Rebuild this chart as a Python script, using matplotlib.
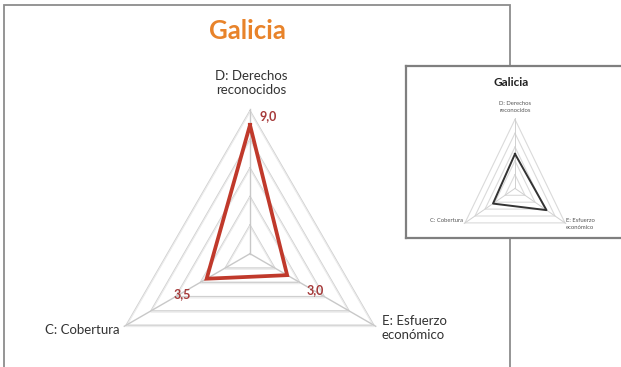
import numpy as np
import matplotlib
matplotlib.use("Agg")
import matplotlib.pyplot as plt
from matplotlib.patches import Rectangle

# ---------------- data ----------------
title = "Galicia"
categories = ["D: Derechos\nreconocidos", "E: Esfuerzo\neconómico", "C: Cobertura"]
galicia_values = [9.0, 3.0, 3.5]
value_labels = ["9,0", "3,0", "3,5"]
inset_values = [5.0, 6.3, 4.4]
grid_levels = [2, 4, 6, 8, 10]
max_value = 10

angles = np.deg2rad([90, -30, 210])

W, H = 621, 367
plt.rcParams['font.family'] = ['Lato', 'DejaVu Sans']
fig = plt.figure(figsize=(W / 100, H / 100), dpi=100)
fig.patch.set_facecolor("white")


def xy(vals):
    v = np.asarray(vals, dtype=float)
    return v * np.cos(angles), v * np.sin(angles)


def closed(a):
    return np.append(a, a[0])


# ---------------- main chart ----------------
cx, cy, R = 250.0, 253.7, 143.0
s = R / max_value
ax = fig.add_axes([0, 0, 1, 1])
ax.set_xlim(-cx / s, (W - cx) / s)
ax.set_ylim(-(H - cy) / s, cy / s)
ax.axis("off")


def P(px, py):
    return (px - cx) / s, (cy - py) / s


# frame of the main panel
fig.patches.append(Rectangle((4 / W, -0.2), 506 / W, 1.2 - 5 / H,
                             transform=fig.transFigure, fill=False,
                             edgecolor="#8c8c8c", lw=1.3, zorder=0))

for lv in grid_levels:
    gx, gy = xy([lv] * 3)
    ax.plot(closed(gx), closed(gy), color="#cfcfcf", lw=1.0, zorder=1)
    ax.plot(closed(gx), closed(gy) - 0.09, color="#ececec", lw=0.9, zorder=1)
ox, oy = xy([max_value + 0.15] * 3)
for i in range(3):
    ax.plot([0, ox[i]], [0, oy[i]], color="#c8c8c8", lw=1.0, zorder=1)

gx, gy = xy(galicia_values)
ax.plot(closed(gx), closed(gy), color="#c0392b", lw=2.7, zorder=3,
        solid_joinstyle="miter")

ax.text(*P(247, 31), title, ha="center", va="center", fontsize=18.5,
        fontweight="bold", color="#e8832a")

lab_col = "#a63a3a"
ax.text(*P(268, 116), value_labels[0], ha="center", va="center",
        fontsize=9, fontweight="bold", color=lab_col)
ax.text(*P(315, 290), value_labels[1], ha="center", va="center",
        fontsize=9, fontweight="bold", color=lab_col)
ax.text(*P(182, 294), value_labels[2], ha="center", va="center",
        fontsize=9, fontweight="bold", color=lab_col)

txt_col = "#333333"
ax.text(*P(251, 83), categories[0], ha="center", va="center",
        fontsize=9.5, color=txt_col, linespacing=1.25)
ax.text(*P(382, 328), categories[1], ha="left", va="center",
        fontsize=9.5, color=txt_col, linespacing=1.25)
ax.text(*P(120, 330), categories[2], ha="right", va="center",
        fontsize=9.5, color=txt_col)

# ---------------- inset chart ----------------
ix0, iy0, ix1, iy1 = 406, 66, 640, 238
ax2 = fig.add_axes([ix0 / W, 1 - iy1 / H, (ix1 - ix0) / W, (iy1 - iy0) / H])
ax2.set_zorder(5)
ax2.set_facecolor("white")
for sp in ax2.spines.values():
    sp.set_edgecolor("#7f7f7f")
    sp.set_linewidth(1.6)
ax2.set_xticks([])
ax2.set_yticks([])

icx, icy = 515.0, 188.4
sx = 50.0 / (max_value * np.cos(np.deg2rad(30)))
sy = 6.9
ax2.set_xlim((ix0 - icx) / sx, (ix1 - icx) / sx)
ax2.set_ylim((icy - iy1) / sy, (icy - iy0) / sy)


def Q(px, py):
    return (px - icx) / sx, (icy - py) / sy


for lv in grid_levels:
    gx, gy = xy([lv] * 3)
    ax2.plot(closed(gx), closed(gy), color="#dadada", lw=0.8)
for i in range(3):
    ax2.plot([0, ox[i]], [0, oy[i]], color="#d0d0d0", lw=0.7)

gx, gy = xy(inset_values)
ax2.plot(closed(gx), closed(gy), color="#333333", lw=1.4)

ax2.text(*Q(511, 82), title, ha="center", va="center", fontsize=8.5,
         fontweight="bold", color="#222222")
ax2.text(*Q(515, 107), categories[0], ha="center", va="center",
         fontsize=4.2, color="#555555", linespacing=1.3)
ax2.text(*Q(566, 224), categories[1], ha="left", va="center",
         fontsize=4.2, color="#555555", linespacing=1.3)
ax2.text(*Q(463, 220), categories[2], ha="right", va="center",
         fontsize=4.2, color="#555555")

fig.savefig("out.png", dpi=100)
